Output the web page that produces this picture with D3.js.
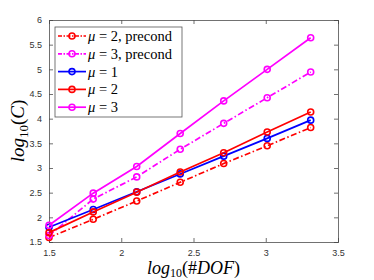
<!DOCTYPE html>
<html>
<head>
<meta charset="utf-8">
<script src="https://cdn.jsdelivr.net/npm/d3@7"></script>
<style>
  html, body { margin: 0; padding: 0; background: #fff; }
  svg { display: block; }
  .tick text { font-family: "Liberation Sans", Arial, sans-serif; font-size: 9px; fill: #333; }
</style>
</head>
<body>
<svg id="chart"></svg>
<script>
// log10(#DOF) vs log10(C), five series, MATLAB-like box axes.
const xs = [1.5, 1.806, 2.107, 2.408, 2.709, 3.01, 3.311];

const mu2Precond = [1.59, 1.96, 2.33, 2.71, 3.09, 3.45, 3.82];
const mu3Precond = [1.63, 2.37, 2.82, 3.38, 3.905, 4.425, 4.945];
const mu1 = [1.80, 2.16, 2.52, 2.88, 3.24, 3.60, 3.97];
const mu2 = [1.69, 2.11, 2.51, 2.92, 3.31, 3.73, 4.135];
const mu3 = [1.84, 2.49, 3.03, 3.70, 4.36, 5.00, 5.64];

const xTicks = [1.5, 2, 2.5, 3, 3.5];
const yTicks = [1.5, 2, 2.5, 3, 3.5, 4, 4.5, 5, 5.5, 6];

const seriesNames = ["μ = 2, precond", "μ = 3, precond", "μ = 1", "μ = 2", "μ = 3"];

(function () {
  const W = 374, H = 280;
  const M = { top: 20, right: 36, bottom: 38, left: 49 };
  const innerW = W - M.left - M.right;
  const innerH = H - M.top - M.bottom;

  const DASHDOT = "6,2.5,1.5,2.5";
  const series = [
    { vals: mu2Precond, color: "#ff0000", dash: DASHDOT },
    { vals: mu3Precond, color: "#ff00ff", dash: DASHDOT },
    { vals: mu1,        color: "#0000ff", dash: null },
    { vals: mu2,        color: "#ff0000", dash: null },
    { vals: mu3,        color: "#ff00ff", dash: null }
  ];

  const svg = d3.select("#chart").attr("width", W).attr("height", H);
  const g = svg.append("g").attr("transform", `translate(${M.left},${M.top})`);

  const x = d3.scaleLinear().domain([1.5, 3.5]).range([0, innerW]);
  const y = d3.scaleLinear().domain([1.5, 6]).range([innerH, 0]);

  const axisColor = "#4d4d4d";
  const fmt = d => String(d);

  // axes with inward ticks, on all four sides
  const bottom = g.append("g").attr("transform", `translate(0,${innerH})`)
    .call(d3.axisBottom(x).tickValues(xTicks).tickFormat(fmt).tickSize(-4).tickPadding(8));
  const top = g.append("g")
    .call(d3.axisTop(x).tickValues(xTicks).tickFormat("").tickSize(-4));
  const left = g.append("g")
    .call(d3.axisLeft(y).tickValues(yTicks).tickFormat(fmt).tickSize(-4).tickPadding(7));
  const right = g.append("g").attr("transform", `translate(${innerW},0)`)
    .call(d3.axisRight(y).tickValues(yTicks).tickFormat("").tickSize(-4));
  [bottom, top, left, right].forEach(a => {
    a.select(".domain").attr("stroke", axisColor).attr("stroke-width", 0.8);
    a.selectAll(".tick line").attr("stroke", axisColor).attr("stroke-width", 0.8);
  });

  // lines + markers
  const line = d3.line().x((d, i) => x(xs[i])).y(d => y(d));
  series.forEach(s => {
    g.append("path")
      .datum(s.vals)
      .attr("fill", "none")
      .attr("stroke", s.color)
      .attr("stroke-width", 1.7)
      .attr("stroke-dasharray", s.dash)
      .attr("d", line);
    g.selectAll(null).data(s.vals).enter().append("circle")
      .attr("cx", (d, i) => x(xs[i]))
      .attr("cy", d => y(d))
      .attr("r", 3)
      .attr("fill", "none")
      .attr("stroke", s.color)
      .attr("stroke-width", 1.6);
  });

  // legend
  const serif = "'Liberation Serif', 'DejaVu Serif', serif";
  const lg = svg.append("g").attr("transform", "translate(55,27)");
  lg.append("rect")
    .attr("width", 127).attr("height", 90)
    .attr("fill", "#fff").attr("stroke", "#555").attr("stroke-width", 0.8);
  series.forEach((s, i) => {
    const cy = 9 + i * 17.8;
    lg.append("line")
      .attr("x1", 3).attr("x2", 31).attr("y1", cy).attr("y2", cy)
      .attr("stroke", s.color).attr("stroke-width", 1.7)
      .attr("stroke-dasharray", s.dash ? "4,1.5,1.5,1.5" : null);
    lg.append("circle")
      .attr("cx", 17).attr("cy", cy).attr("r", 3)
      .attr("fill", "none").attr("stroke", s.color).attr("stroke-width", 1.6);
    const parts = seriesNames[i].split("μ");
    const t = lg.append("text")
      .attr("x", 33).attr("y", cy).attr("dy", "0.35em")
      .attr("font-family", serif)
      .attr("font-size", 14.5).attr("fill", "#000");
    t.append("tspan").attr("font-style", "italic").text("μ");
    t.append("tspan").text(parts[1]);
  });

  // axis titles
  const xl = svg.append("text")
    .attr("x", M.left + innerW / 2).attr("y", 274)
    .attr("text-anchor", "middle")
    .attr("font-family", serif).attr("font-size", 18).attr("font-style", "italic");
  xl.append("tspan").text("log");
  xl.append("tspan").attr("font-style", "normal").attr("font-size", 12).attr("dy", 3).text("10");
  xl.append("tspan").attr("font-style", "normal").attr("dy", -3).text("(#");
  xl.append("tspan").text("DOF");
  xl.append("tspan").attr("font-style", "normal").text(")");

  const yl = svg.append("text")
    .attr("transform", `translate(24,${M.top + innerH / 2}) rotate(-90)`)
    .attr("text-anchor", "middle")
    .attr("font-family", serif).attr("font-size", 19).attr("font-style", "italic");
  yl.append("tspan").text("log");
  yl.append("tspan").attr("font-style", "normal").attr("font-size", 13).attr("dy", 4).text("10");
  yl.append("tspan").attr("font-style", "normal").attr("dy", -4).text("(");
  yl.append("tspan").text("C");
  yl.append("tspan").attr("font-style", "normal").text(")");
})();
</script>
</body>
</html>
